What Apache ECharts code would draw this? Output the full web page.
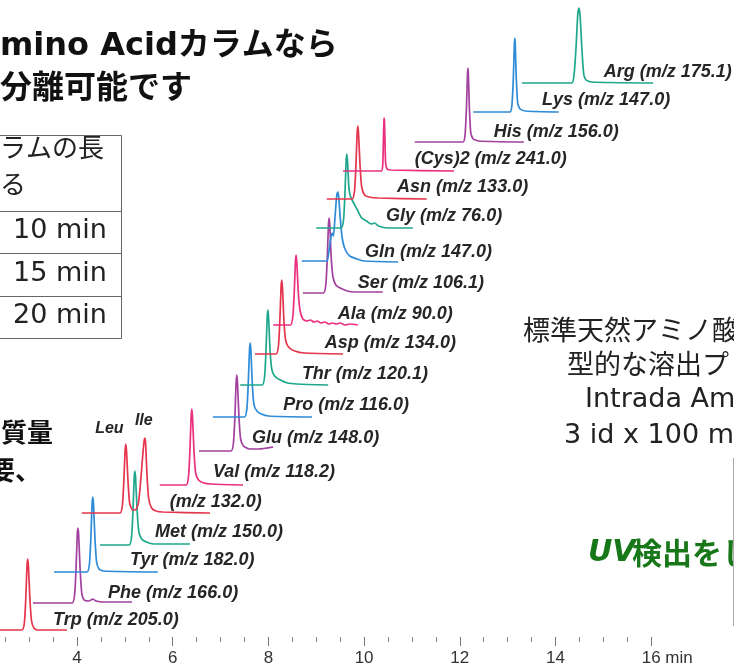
<!DOCTYPE html>
<html><head><meta charset="utf-8">
<script src="https://cdn.jsdelivr.net/npm/echarts/dist/echarts.min.js"></script>
<style>html,body{margin:0;padding:0;background:#fff}#c{width:734px;height:669px}</style>
</head><body><div id="c"></div>
<script>
// Compounds (bottom to top of the stacked chromatogram)
const compounds = ['Trp','Phe','Tyr','Met','Leu/Ile','Val','Glu','Pro','Thr','Asp','Ala','Ser','Gln','Gly','Asn','(Cys)2','His','Lys','Arg'];
const traceColors = ['red','purple','blue','teal','red','pink','purple','blue','teal','red','pink','purple','blue','teal','red','pink','purple','blue','teal'];

// Traces: [retention time (min, offset axis), signal (stacked, arbitrary units)]
const trp = [[2.39,7],[2.85,7],[2.90,14],[2.93,39],[2.955,71],[2.97,78],[2.985,71],[3.015,39],[3.05,16],[3.10,9],[3.17,7],[3.79,7]];
const phe = [[3.08,34],[3.90,34],[3.95,42],[3.98,68],[4.005,102],[4.02,109],[4.035,102],[4.065,68],[4.10,44],[4.15,37],[4.25,36],[4.33,38],[4.40,36],[4.55,35],[5.15,35]];
const tyr = [[3.52,65],[4.21,65],[4.26,73],[4.29,99],[4.315,133],[4.33,140],[4.345,133],[4.375,99],[4.41,75],[4.46,68],[4.55,66],[5.69,65]];
const met = [[4.48,92],[5.09,92],[5.14,100],[5.17,126],[5.195,159],[5.21,166],[5.225,159],[5.255,128],[5.29,106],[5.35,98],[5.45,95],[5.60,93],[6.36,93]];
const leuIle = [[4.10,124],[4.90,124],[4.95,132],[4.98,157],[5.005,186],[5.02,193],[5.035,186],[5.065,157],[5.10,134],[5.16,127],[5.22,127],[5.28,133],[5.32,150],[5.38,185],[5.405,197],[5.42,199],[5.435,193],[5.465,160],[5.50,138],[5.56,129],[5.65,126],[5.80,125],[6.78,124]];
const val = [[5.73,152],[6.28,152],[6.33,160],[6.36,186],[6.385,220],[6.40,228],[6.415,220],[6.445,186],[6.48,164],[6.54,157],[6.65,154],[6.80,153],[7.47,152]];
const glu = [[6.55,186],[7.22,186],[7.27,194],[7.30,220],[7.325,254],[7.34,262],[7.355,254],[7.385,220],[7.42,198],[7.48,191],[7.60,188],[7.80,188],[8.10,190]];
const pro = [[6.84,220],[7.50,220],[7.55,228],[7.58,254],[7.605,287],[7.62,294],[7.635,286],[7.665,252],[7.70,232],[7.76,226],[7.85,223],[8.00,221],[8.91,220]];
const thr = [[7.41,252],[7.87,252],[7.92,260],[7.95,286],[7.975,320],[7.99,327],[8.005,319],[8.035,287],[8.07,268],[8.13,261],[8.25,257],[8.40,254],[8.60,253],[9.25,252]];
const asp = [[7.72,283],[8.16,283],[8.21,291],[8.24,317],[8.265,350],[8.28,357],[8.295,349],[8.325,316],[8.36,297],[8.42,290],[8.55,286],[8.75,284],[9.56,283]];
const ala = [[8.10,312],[8.46,312],[8.51,320],[8.54,344],[8.565,375],[8.58,382],[8.595,374],[8.625,345],[8.66,327],[8.72,318],[8.80,316],[8.88,317],[8.95,315],[9.02,316],[9.10,314],[9.18,315],[9.26,313],[9.34,314],[9.42,313],[9.50,314],[9.60,312],[9.70,313],[9.87,312]];
const ser = [[8.72,344],[9.15,344],[9.20,352],[9.23,378],[9.255,412],[9.27,419],[9.285,411],[9.315,378],[9.35,360],[9.41,352],[9.50,349],[9.65,346],[9.80,345],[10.39,345]];
const gln = [[8.70,376],[9.22,376],[9.26,384],[9.30,398],[9.33,404],[9.36,401],[9.39,418],[9.425,440],[9.45,445],[9.47,440],[9.50,420],[9.54,400],[9.60,388],[9.70,381],[9.85,378],[10.00,376],[10.71,375]];
const gly = [[9.00,409],[9.52,409],[9.57,417],[9.60,443],[9.625,476],[9.64,483],[9.655,475],[9.685,448],[9.72,440],[9.76,436],[9.85,428],[9.95,419],[10.05,416],[10.15,413],[10.22,414],[10.30,411],[10.50,409],[11.02,409]];
const asn = [[9.22,438],[9.75,438],[9.80,446],[9.83,472],[9.855,504],[9.87,511],[9.885,503],[9.915,472],[9.95,450],[10.01,442],[10.10,440],[10.30,439],[11.31,438]];
const cys2 = [[9.56,466],[10.36,466],[10.39,472],[10.405,500],[10.415,516],[10.42,519],[10.425,516],[10.435,500],[10.45,474],[10.48,468],[10.55,467],[11.88,466]];
const his = [[11.06,495],[12.07,495],[12.11,502],[12.14,530],[12.16,562],[12.17,569],[12.18,562],[12.20,530],[12.23,504],[12.28,498],[12.40,496],[13.34,495]];
const lys = [[12.28,525],[13.05,525],[13.09,532],[13.12,560],[13.14,592],[13.15,599],[13.16,592],[13.18,560],[13.21,534],[13.26,528],[13.38,526],[14.07,525]];
const arg = [[13.30,554],[14.34,554],[14.39,563],[14.43,590],[14.465,622],[14.49,629],[14.515,621],[14.55,590],[14.59,563],[14.64,557],[14.75,555],[16.04,554]];
const traces = [trp,phe,tyr,met,leuIle,val,glu,pro,thr,asp,ala,ser,gln,gly,asn,cys2,his,lys,arg];

// Trace labels and their anchors (time, signal)
const labelTexts = ['Trp (m/z 205.0)','Phe (m/z 166.0)','Tyr (m/z 182.0)','Met (m/z 150.0)','(m/z 132.0)','Val (m/z 118.2)','Glu (m/z 148.0)','Pro (m/z 116.0)','Thr (m/z 120.1)','Asp (m/z 134.0)','Ala (m/z 90.0)','Ser (m/z 106.1)','Gln (m/z 147.0)','Gly (m/z 76.0)','Asn (m/z 133.0)','(Cys)2 (m/z 241.0)','His (m/z 156.0)','Lys (m/z 147.0)','Arg (m/z 175.1)'];
const labelT = [3.50,4.65,5.11,5.63,5.94,6.84,7.66,8.31,8.70,9.18,9.45,9.87,10.02,10.46,10.69,11.06,12.71,13.72,15.01];
const labelY = [17,44,77,105,135,165,199,232,263,294,323,354,385,421,450,478,505,537,565];
const peakNames = ['Leu','Ile'];
const peakNameT = [4.38,5.21];
const peakNameY = [208,216];

// Axis ticks
const majorTicks = [4,6,8,10,12,14,16];
const minorTicks = [2.5,3,3.5,4.5,5,5.5,6.5,7,7.5,8.5,9,9.5,10.5,11,11.5,12.5,13,13.5,14.5,15,15.5];

const palette = {red:'#e5344b', purple:'#a2409f', blue:'#2d8bd8', teal:'#1ea78c', pink:'#ea2f7e'};

const series = traces.map((d,i)=>({
  type:'line', name:compounds[i], data:d, xAxisIndex:0, yAxisIndex:0,
  symbol:'none', smooth:0.2, clip:false,
  lineStyle:{color:palette[traceColors[i]], width:1.7},
  silent:true
}));
const labelStyle = {show:true, position:'right', distance:0, color:'#262626', fontFamily:'Liberation Sans, Arial', fontStyle:'italic', fontWeight:'bold', fontSize:18};
series.push({
  type:'scatter', symbolSize:0, silent:true, clip:false, itemStyle:{opacity:1},
  data: labelTexts.map((t,i)=>[labelT[i], labelY[i], t]),
  label:Object.assign({}, labelStyle, {formatter:p=>p.data[2]})
});
series.push({
  type:'scatter', symbolSize:0, silent:true, clip:false, itemStyle:{opacity:1},
  data: peakNames.map((t,i)=>[peakNameT[i], peakNameY[i], t]),
  label:Object.assign({}, labelStyle, {fontSize:16, formatter:p=>p.data[2]})
});

const latin = '"DejaVu Sans", "Noto Sans CJK JP", sans-serif';
const txt = (x,y,text,font,fill)=>({type:'text', x:x, y:y, silent:true, style:{text:text, font:font, fill:fill||'#1a1a1a', verticalAlign:'middle', align:'left'}});
const ln = (x1,y1,x2,y2)=>({type:'line', silent:true, shape:{x1:x1,y1:y1,x2:x2,y2:y2}, style:{stroke:'#666', lineWidth:1}});

const chart = echarts.init(document.getElementById('c'), null, {renderer:'canvas'});
chart.setOption({
  animation:false,
  backgroundColor:'#fff',
  grid:{left:0, right:0, top:0, bottom:32, containLabel:false},
  xAxis:[
    {type:'value', min:2.391, max:17.731, position:'bottom',
     axisLine:{show:false}, splitLine:{show:false},
     axisTick:{show:true, length:9, customValues:majorTicks, lineStyle:{color:'#777', width:1}},
     axisLabel:{show:true, customValues:majorTicks, margin:13, fontSize:17, color:'#333', fontFamily:'Liberation Sans, Arial',
       formatter:v=> v===16 ? '{h| min}16 min' : String(v),
       rich:{h:{color:'transparent', fontSize:17, fontFamily:'Liberation Sans, Arial'}}}},
    {type:'value', min:2.391, max:17.731, position:'bottom',
     axisLine:{show:false}, splitLine:{show:false},
     axisTick:{show:true, length:5, customValues:minorTicks, lineStyle:{color:'#888', width:1}},
     axisLabel:{show:false}}
  ],
  yAxis:{type:'value', min:0, max:637, show:false},
  series:series,
  graphic:[
    txt(0,47,'mino Acidカラムなら','bold 32px '+latin,'#111'),
    txt(0,90,'分離可能です','bold 32px '+latin,'#111'),
    ln(-1,135.5,121.5,135.5), ln(121.5,135.5,121.5,338.5), ln(-1,211.5,121.5,211.5),
    ln(-1,253.5,121.5,253.5), ln(-1,296.5,121.5,296.5), ln(-1,338.5,121.5,338.5),
    txt(0,150,'ラムの長','26px '+latin,'#222'),
    txt(0,187,'る','26px '+latin,'#222'),
    txt(13,231,'10 min','27px '+latin,'#222'),
    txt(13,274,'15 min','27px '+latin,'#222'),
    txt(13,316,'20 min','27px '+latin,'#222'),
    txt(1,435,'質量','bold 26px '+latin,'#111'),
    txt(-11,473,'要、','bold 26px '+latin,'#111'),
    txt(523,333,'標準天然アミノ酸','27px '+latin,'#222'),
    txt(567,367,'型的な溶出プ','27px '+latin,'#222'),
    txt(585,400,'Intrada Am','27px '+latin,'#222'),
    txt(564,436,'3 id x 100 m','27px '+latin,'#222'),
    txt(588,553,'UV','italic bold 30px "DejaVu Sans", sans-serif','#187718'),
    txt(632,553,'検出をし','bold 30px "Noto Sans CJK JP", sans-serif','#187718'),
    {type:'line', silent:true, shape:{x1:733.5,y1:458,x2:733.5,y2:626}, style:{stroke:'#aaa', lineWidth:1}}
  ]
});
</script></body></html>
